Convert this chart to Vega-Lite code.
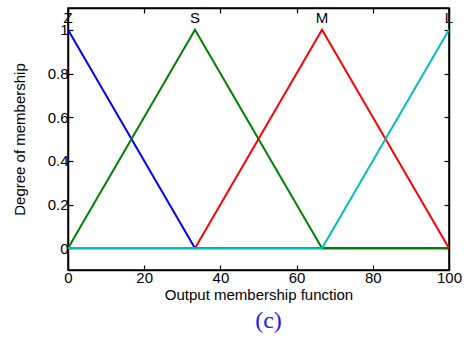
{
  "$schema": "https://vega.github.io/schema/vega-lite/v6.json",
  "width": 381,
  "height": 262,
  "autosize": {"type": "none"},
  "padding": {"left": 68, "top": 8, "right": 22, "bottom": 70},
  "background": "white",
  "config": {
    "view": {"stroke": "black", "strokeWidth": 1.5},
    "axis": {
      "labelFont": "Liberation Sans",
      "titleFont": "Liberation Sans",
      "labelFontSize": 15,
      "titleFontSize": 15,
      "titleFontWeight": "normal",
      "labelColor": "black",
      "titleColor": "black",
      "domainColor": "black",
      "domainWidth": 1.5,
      "tickColor": "black",
      "tickWidth": 1.2,
      "tickSize": -5,
      "grid": false
    }
  },
  "title": {
    "text": "(c)",
    "orient": "bottom",
    "font": "Liberation Serif",
    "fontSize": 24,
    "fontWeight": "normal",
    "color": "#1a1aff",
    "dx": 10,
    "offset": 7
  },
  "datasets": {
    "mf": [
      {"mf": "Z", "x": 0, "y": 1},
      {"mf": "Z", "x": 33.33, "y": 0},
      {"mf": "Z", "x": 100, "y": 0},
      {"mf": "S", "x": 0, "y": 0},
      {"mf": "S", "x": 33.33, "y": 1},
      {"mf": "S", "x": 66.67, "y": 0},
      {"mf": "S", "x": 100, "y": 0},
      {"mf": "M", "x": 0, "y": 0},
      {"mf": "M", "x": 33.33, "y": 0},
      {"mf": "M", "x": 66.67, "y": 1},
      {"mf": "M", "x": 100, "y": 0},
      {"mf": "L", "x": 0, "y": 0},
      {"mf": "L", "x": 66.67, "y": 0},
      {"mf": "L", "x": 100, "y": 1}
    ],
    "names": [
      {"mf": "Z", "x": 0, "y": 1.055},
      {"mf": "S", "x": 33.33, "y": 1.055},
      {"mf": "M", "x": 66.67, "y": 1.055},
      {"mf": "L", "x": 100, "y": 1.055}
    ]
  },
  "layer": [
    {
      "data": {"name": "mf"},
      "transform": [{"filter": "datum.mf === 'Z'"}],
      "mark": {"type": "line", "color": "#0000ff", "strokeWidth": 2, "clip": true},
      "encoding": {
        "x": {
          "field": "x", "type": "quantitative",
          "scale": {"domain": [0, 100], "nice": false},
          "axis": {"orient": "bottom", "values": [0, 20, 40, 60, 80, 100], "title": "Output membership function", "titlePadding": 2, "labelPadding": 5, "labelFlush": false}
        },
        "y": {
          "field": "y", "type": "quantitative",
          "scale": {"domain": [-0.1, 1.1], "nice": false, "zero": false},
          "axis": {"orient": "left", "values": [0, 0.2, 0.4, 0.6, 0.8, 1], "format": "~g", "title": "Degree of membership", "titlePadding": 20, "labelPadding": 5}
        }
      }
    },
    {
      "data": {"name": "mf"},
      "transform": [{"filter": "datum.mf === 'S'"}],
      "mark": {"type": "line", "color": "#008000", "strokeWidth": 2, "clip": true},
      "encoding": {
        "x": {"field": "x", "type": "quantitative", "axis": null},
        "y": {"field": "y", "type": "quantitative", "axis": null}
      }
    },
    {
      "data": {"name": "mf"},
      "transform": [{"filter": "datum.mf === 'M'"}],
      "mark": {"type": "line", "color": "#ff0000", "strokeWidth": 2, "clip": true},
      "encoding": {
        "x": {"field": "x", "type": "quantitative", "axis": null},
        "y": {"field": "y", "type": "quantitative", "axis": null}
      }
    },
    {
      "data": {"name": "mf"},
      "transform": [{"filter": "datum.mf === 'L'"}],
      "mark": {"type": "line", "color": "#00bfbf", "strokeWidth": 2, "clip": true},
      "encoding": {
        "x": {"field": "x", "type": "quantitative", "axis": null},
        "y": {"field": "y", "type": "quantitative", "axis": null}
      }
    },
    {
      "data": {"name": "names"},
      "mark": {"type": "text", "font": "Liberation Sans", "fontSize": 15, "color": "black", "align": "center", "baseline": "middle"},
      "encoding": {
        "x": {
          "field": "x", "type": "quantitative",
          "axis": {"orient": "top", "values": [0, 20, 40, 60, 80, 100], "labels": false, "title": null}
        },
        "y": {
          "field": "y", "type": "quantitative",
          "axis": {"orient": "right", "values": [0, 0.2, 0.4, 0.6, 0.8, 1], "labels": false, "title": null}
        },
        "text": {"field": "mf"}
      }
    }
  ],
  "resolve": {"axis": {"x": "independent", "y": "independent"}}
}
